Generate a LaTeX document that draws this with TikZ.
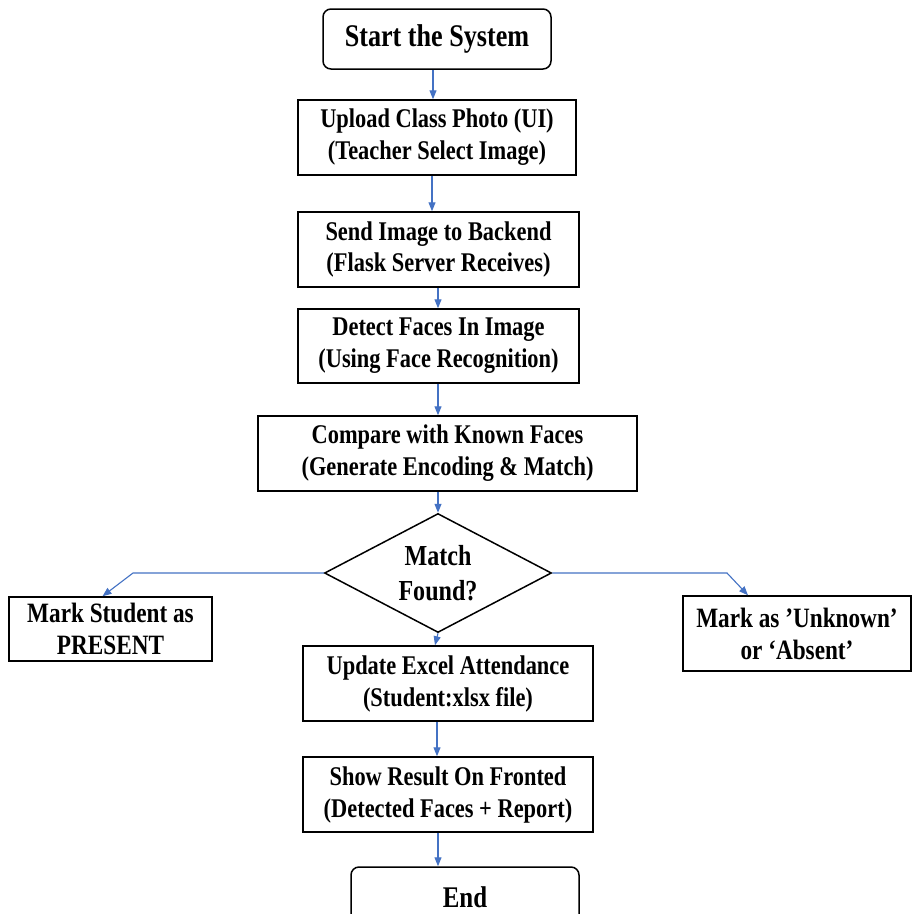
\documentclass[tikz,border=0pt]{standalone}
\usepackage{fontspec}
\setmainfont{Liberation Serif}[FakeStretch=0.83]
\usetikzlibrary{arrows.meta,shapes.geometric}
\definecolor{arrowblue}{RGB}{68,114,196}
\begin{document}
\begin{tikzpicture}[x=1pt,y=-1pt,
  box/.style={draw=black,line width=1.5pt,fill=white,inner sep=0pt,align=center,
    font=\fontsize{27}{32}\selectfont\bfseries},
  sidebox/.style={box,font=\fontsize{28}{32}\selectfont\bfseries},
  term/.style={box,rounded corners=8pt,font=\fontsize{31.5}{36}\selectfont\bfseries},
  decision/.style={diamond,draw=black,line width=1.5pt,inner sep=0pt,aspect=1.9,align=center,
    minimum width=227pt,minimum height=119pt,font=\fontsize{29}{35}\selectfont\bfseries},
  arr/.style={draw=arrowblue,line width=1.1pt,-{Triangle[length=9pt,width=7pt]}}]
\useasboundingbox (0,0) rectangle (912,914);
\clip (0,0) rectangle (912,914);
\fill[white] (0,0) rectangle (912,914);

\node[term,minimum width=228pt,minimum height=60pt] (start) at (437,39) {Start the System};
\node[box,minimum width=278pt,minimum height=75pt] (upload) at (437,137.5) {Upload Class Photo (UI)\\(Teacher Select Image)};
\node[box,minimum width=281pt,minimum height=75pt] (send) at (438.5,249.5) {Send Image to Backend\\(Flask Server Receives)};
\node[box,minimum width=281pt,minimum height=74pt] (detect) at (438.5,346) {Detect Faces In Image\\(Using Face Recognition)};
\node[box,minimum width=379pt,minimum height=75pt] (compare) at (447.5,453.5) {Compare with Known Faces\\(Generate Encoding \& Match)};
\node[decision] (dia) at (438,573) {Match\\Found?};
\node[sidebox,minimum width=203pt,minimum height=64pt] (present) at (110.5,629) {Mark Student as\\PRESENT};
\node[sidebox,minimum width=228pt,minimum height=75pt] (unknown) at (797,633.5) {Mark as ’Unknown’\\or ‘Absent’};
\node[box,minimum width=290pt,minimum height=75pt] (update) at (448,683.5) {Update Excel Attendance\\(Student:xlsx file)};
\node[box,minimum width=290pt,minimum height=75pt] (show) at (448,794.5) {Show Result On Fronted\\(Detected Faces + Report)};
\node[term,minimum width=228pt,minimum height=60pt,font=\fontsize{30}{36}\selectfont\bfseries] (end) at (465,897) {End};

\coordinate (lb) at (133,573);
\coordinate (rb) at (727,573);

\draw[arr] ([xshift=-4pt]start.south) -- ([xshift=-4pt]upload.north);
\draw[arr] ([xshift=-5pt]upload.south) -- ([xshift=-6.5pt]send.north);
\draw[arr] ([xshift=-0.5pt]send.south) -- ([xshift=-0.5pt]detect.north);
\draw[arr] ([xshift=-0.5pt]detect.south) -- ([xshift=-9.5pt]compare.north);
\draw[arr] ([xshift=-9.5pt]compare.south) -- (dia.north);
\draw[arr] (dia.west) -- (lb) -- ([xshift=-8pt]present.north);
\draw[arr] (dia.east) -- (rb) -- ([xshift=-49pt]unknown.north);
\draw[arr] (dia.south) -- ([xshift=-13pt]update.north);
\draw[arr] ([xshift=-11pt]update.south) -- ([xshift=-11pt]show.north);
\draw[arr] ([xshift=-10pt]show.south) -- ([xshift=-27pt]end.north);
\end{tikzpicture}
\end{document}
